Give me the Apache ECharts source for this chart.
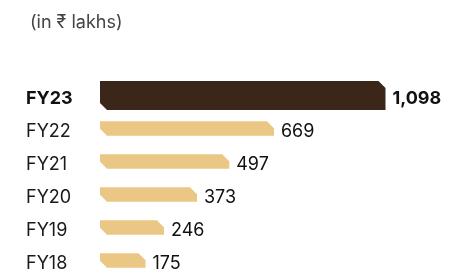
<!DOCTYPE html>
<html>
<head>
<meta charset="utf-8">
<style>
  html, body { margin: 0; padding: 0; background: #fff; }
  #chart { width: 468px; height: 275px; }
</style>
<script src="https://cdn.jsdelivr.net/npm/echarts@6/dist/echarts.min.js"></script>
</head>
<body>
<div id="chart"></div>
<script>
// data (in lakhs), top to bottom
var years = ['FY23', 'FY22', 'FY21', 'FY20', 'FY19', 'FY18']
var values = [1098, 669, 497, 373, 246, 175]
var unitLabel = '(in \u20b9 lakhs)'

var darkColor = '#3a2719'
var lightColor = '#ebc785'
var fontFamily = 'Inter, "Noto Sans", sans-serif'

var chart = echarts.init(document.getElementById('chart'))

function fmt(v) {
  return v.toLocaleString('en-US')
}

var option = {
  animation: false,
  title: {
    text: unitLabel,
    left: 25,
    top: 9,
    textStyle: {
      fontFamily: fontFamily,
      fontSize: 18,
      fontWeight: 'normal',
      color: '#444',
    },
  },
  grid: {
    left: 100,
    top: 82,
    width: 312,
    height: 198,
    outerBoundsMode: 'none',
  },
  xAxis: {
    type: 'value',
    min: 0,
    max: 1200,
    show: false,
  },
  yAxis: {
    type: 'category',
    data: years,
    inverse: true,
    axisLine: { show: false },
    axisTick: { show: false },
    splitLine: { show: false },
    axisLabel: {
      align: 'left',
      margin: 74,
      fontFamily: fontFamily,
      fontSize: 18,
      color: '#1a1a1a',
      formatter: function (val, idx) {
        return idx === 0 ? '{b|' + val + '}' : val
      },
      rich: {
        b: {
          fontFamily: fontFamily,
          fontSize: 18,
          fontWeight: 'bold',
          color: '#111',
        },
      },
    },
  },
  series: [
    {
      type: 'custom',
      encode: { x: 0, y: 1 },
      data: values.map(function (v, i) { return [v, years[i]] }),
      renderItem: function (params, api) {
        var first = params.dataIndex === 0
        var start = api.coord([0, api.value(1)])
        var end = api.coord([api.value(0), api.value(1)])
        var band = api.size([0, 1])[1]
        var h = first ? band * 0.88 : band * 0.44
        var cy = start[1] - 3
        var top = cy - h / 2
        var bot = cy + h / 2
        var x0 = start[0]
        var x1 = end[0]
        var c = 7
        return {
          type: 'group',
          children: [
            {
              type: 'polygon',
              shape: {
                points: [
                  [x0, top],
                  [x1 - c, top],
                  [x1, top + c],
                  [x1, bot],
                  [x0 + c, bot],
                  [x0, bot - c],
                ],
              },
              style: { fill: first ? darkColor : lightColor },
            },
            {
              type: 'text',
              x: x1 + 7,
              y: start[1],
              style: {
                text: fmt(api.value(0)),
                fontFamily: fontFamily,
                fontSize: 18,
                fontWeight: first ? 'bold' : 'normal',
                fill: '#111',
                verticalAlign: 'middle',
                align: 'left',
              },
            },
          ],
        }
      },
    },
  ],
}

chart.setOption(option)
</script>
</body>
</html>
